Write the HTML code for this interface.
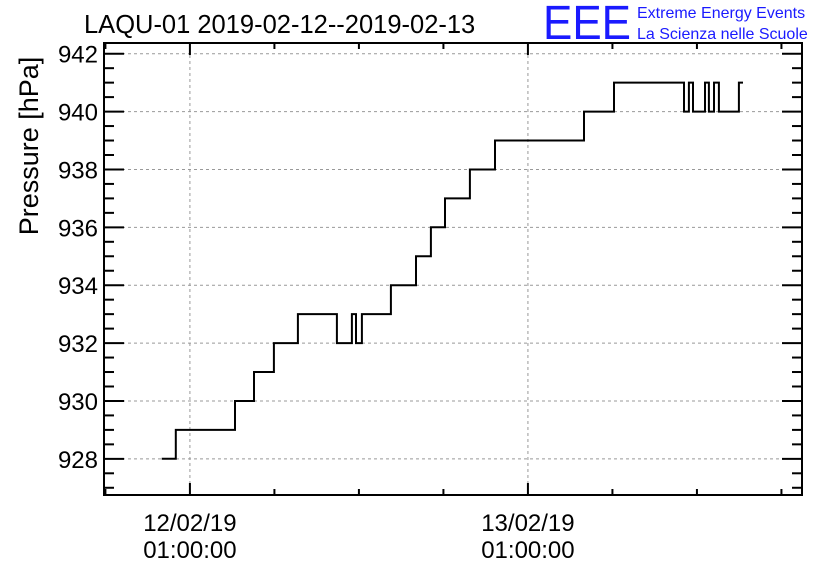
<!DOCTYPE html>
<html><head><meta charset="utf-8"><style>
body{margin:0;background:#fff;}
svg{display:block;font-family:"Liberation Sans",sans-serif;}
</style></head><body>
<svg id="chart" width="836" height="572" viewBox="0 0 836 572">
<text x="84" y="33" font-size="25.5">LAQU-01 2019-02-12--2019-02-13</text>
<text x="543" y="39" font-size="48" fill="#1a1aff" textLength="88" lengthAdjust="spacingAndGlyphs">EEE</text>
<text x="637" y="18" font-size="16" fill="#1a1aff">Extreme Energy Events</text>
<text x="637" y="39" font-size="16" fill="#1a1aff">La Scienza nelle Scuole</text>
<text transform="translate(38,146) rotate(-90)" text-anchor="middle" font-size="27">Pressure [hPa]</text>
<g id="grid"></g><g id="ticks"></g><g id="labels"></g>
<path id="series" fill="none" stroke="#000" stroke-width="2"/>
<rect x="104" y="43" width="698" height="452" fill="none" stroke="#000" stroke-width="2"/>
</svg>
<script>
// hours relative to 12/02/19 01:00
const times=[-2.0,-1.0,3.2,4.55,5.96,7.67,10.44,11.5,11.79,12.21,14.27,16.05,17.11,18.11,19.88,21.66,27.98,30.11,35.08,35.43,35.72,36.57,36.85,37.21,37.56,38.98];
const pressures=[928,929,930,931,932,933,932,933,932,933,934,935,936,937,938,939,940,941,940,941,940,941,940,941,940,941];
const endTime=39.27;
const yTicks=[928,930,932,934,936,938,940,942];
const xDateLabels=[["12/02/19","01:00:00"],["13/02/19","01:00:00"]];
const xDateHours=[0,24];

const L=104,R=802,T=43,B=495;
const x0=-6.1,x1=43.46,y0=926.75,y1=942.37;
const X=h=>L+(h-x0)/(x1-x0)*(R-L);
const Y=p=>B-(p-y0)/(y1-y0)*(B-T);
const NS="http://www.w3.org/2000/svg";
function mk(tag,attrs,parent){const e=document.createElementNS(NS,tag);for(const k in attrs)e.setAttribute(k,attrs[k]);document.getElementById(parent).appendChild(e);return e;}

yTicks.forEach(v=>{
  const g=mk('line',{x1:L,x2:R,y1:Y(v),y2:Y(v),stroke:'#999','stroke-dasharray':'3,3','stroke-width':1},'grid');
  
  
  const t=mk('text',{x:98,y:Y(v)+9,'text-anchor':'end','font-size':24},'labels');
  t.textContent=v;
  
  
});
for(let p=927;p<=942.3;p+=0.5){
  const major=p%2===0;const len=major?20:10;
  mk('line',{x1:L,x2:L+len,y1:Y(p),y2:Y(p),stroke:'#000','stroke-width':2},'ticks');
  const r=mk('line',{x1:R-len,x2:R,y1:Y(p),y2:Y(p),stroke:'#000','stroke-width':2},'ticks');
  
  
}
for(let h=-6;h<=42;h+=6){
  const major=xDateHours.includes(h);const len=major?12:6;
  mk('line',{x1:X(h),x2:X(h),y1:B-len,y2:B,stroke:'#000','stroke-width':2},'ticks');
  const t=mk('line',{x1:X(h),x2:X(h),y1:T,y2:T+len,stroke:'#000','stroke-width':2},'ticks');
  
  
}
xDateHours.forEach((h,i)=>{
  const g=mk('line',{x1:X(h),x2:X(h),y1:T,y2:B,stroke:'#999','stroke-dasharray':'3,3','stroke-width':1},'grid');
  
  
  xDateLabels[i].forEach((s,j)=>{
    const t=mk('text',{x:X(h),y:531+j*27,'text-anchor':'middle','font-size':24},'labels');
    t.textContent=s;
    
    
  });
});
let d='';
times.forEach((t,i)=>{
  const nx=i+1<times.length?times[i+1]:endTime;
  d+=(i===0?'M':'L')+X(t).toFixed(1)+','+Y(pressures[i]).toFixed(1)+'L'+X(nx).toFixed(1)+','+Y(pressures[i]).toFixed(1);
});
document.getElementById('series').setAttribute('d',d);
</script>
</body></html>
